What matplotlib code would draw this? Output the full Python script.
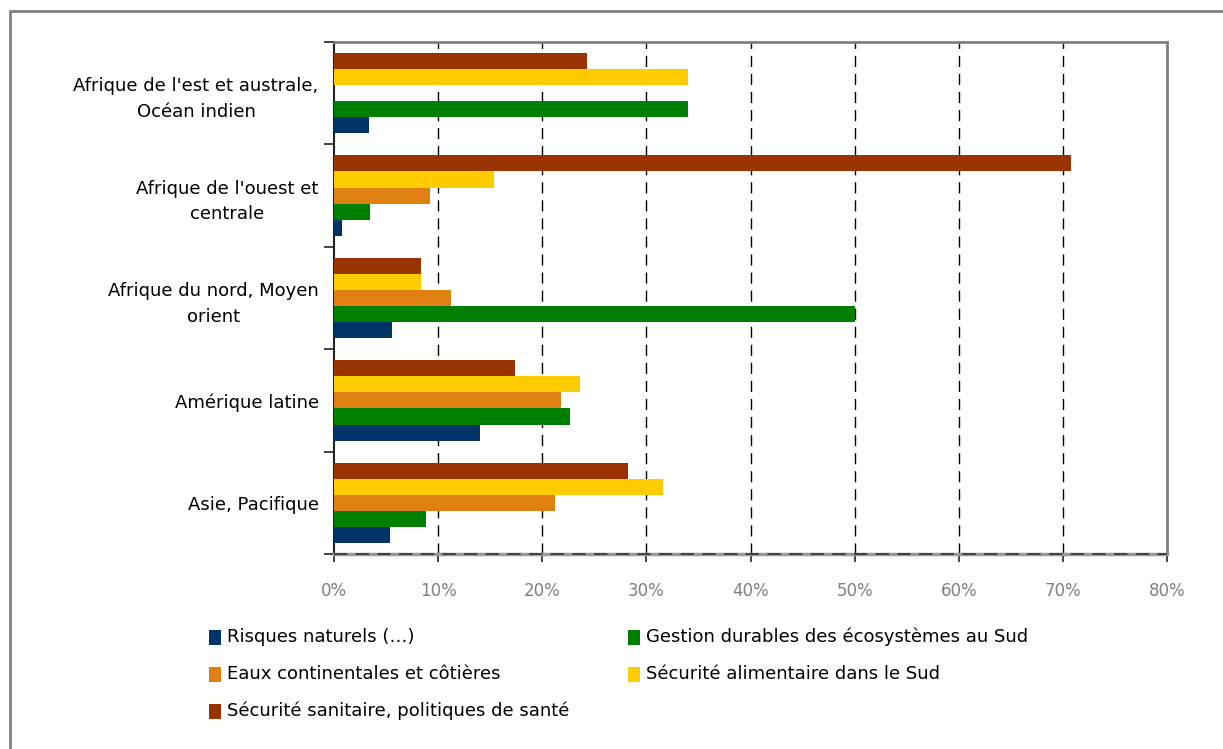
import matplotlib
matplotlib.use("Agg")
import matplotlib.pyplot as plt
from matplotlib.patches import Rectangle
import numpy as np

plt.rcParams['font.family'] = ['DejaVu Sans']

categories = ["Afrique de l'est et australe,\nOcéan indien",
              "Afrique de l'ouest et\ncentrale",
              "Afrique du nord, Moyen\norient",
              "Amérique latine",
              "Asie, Pacifique"]

series_names = ["Risques naturels (…)",
                "Gestion durables des écosystèmes au Sud",
                "Eaux continentales et côtières",
                "Sécurité alimentaire dans le Sud",
                "Sécurité sanitaire, politiques de santé"]

risques = [3.4, 0.8, 5.6, 14.0, 5.4]
gestion = [34.0, 3.5, 50.0, 22.7, 8.8]
eaux = [0.0, 9.2, 11.2, 21.8, 21.2]
alimentaire = [34.0, 15.4, 8.4, 23.6, 31.6]
sanitaire = [24.3, 70.8, 8.4, 17.4, 28.2]

colors = ["#003366", "#008000", "#E08010", "#FFCC00", "#993300"]
xticks = [0, 10, 20, 30, 40, 50, 60, 70, 80]

W, H = 1223, 749
fig = plt.figure(figsize=(W / 100, H / 100), dpi=100)

# outer frame
fig.patches.append(Rectangle((10 / W, -0.05), 1.2, 1 - 11 / H + 0.05,
                             transform=fig.transFigure, fill=False,
                             edgecolor="#808080", linewidth=2.0))

ax = fig.add_axes([334 / W, 1 - 554 / H, (1167 - 334) / W, (554 - 42) / H])

series = [risques, gestion, eaux, alimentaire, sanitaire]
h = 0.157
y = np.arange(len(categories))
offsets = [2, 1, 0, -1, -2]
for vals, off, c in zip(series, offsets, colors):
    ax.barh(y + off * h, vals, height=h, color=c, edgecolor='none', zorder=3)

ax.set_xlim(0, 80)
ax.set_ylim(len(categories) - 0.5, -0.5)
ax.set_xticks(xticks)
ax.set_xticklabels([f"{v}%" for v in xticks], color="#808080", fontsize=12)
ax.set_yticks(y)
ax.set_yticklabels(categories, fontsize=13, multialignment='center',
                   linespacing=1.55)
ax.tick_params(axis='y', which='major', length=0, pad=11)
ax.set_yticks(np.arange(-0.5, len(categories), 1.0), minor=True)
ax.tick_params(axis='y', which='minor', length=7, width=1.2, color='#222222')
ax.tick_params(axis='x', length=6, width=1.2, color='#222222', pad=14)

for v in xticks[1:]:
    ax.axvline(v, color='black', linestyle=(0, (8, 5)), linewidth=1.0, zorder=1)

for s in ['top', 'right']:
    ax.spines[s].set_color('#808080')
    ax.spines[s].set_linewidth(2.0)
ax.spines['bottom'].set_color('#999999')
ax.spines['bottom'].set_linewidth(2.5)
ax.axhline(len(categories) - 0.5, color='#333333', linestyle=(0, (8, 5)),
           linewidth=1.2, zorder=4, clip_on=False)
ax.spines['left'].set_color('#222222')
ax.spines['left'].set_linewidth(1.5)

# legend, two columns laid out manually
legend_pos = [(209, 637), (628, 637), (209, 674), (628, 674), (209, 711)]
legend_order = [0, 1, 2, 3, 4]
for (px, py), idx in zip(legend_pos, legend_order):
    fig.patches.append(Rectangle((px / W, 1 - (py + 8) / H), 12 / W, 15 / H,
                                 transform=fig.transFigure,
                                 facecolor=colors[idx], edgecolor='none'))
    fig.text((px + 18) / W, 1 - py / H, series_names[idx], fontsize=13,
             va='center', ha='left', color='black')

fig.savefig("out.png", dpi=100)
